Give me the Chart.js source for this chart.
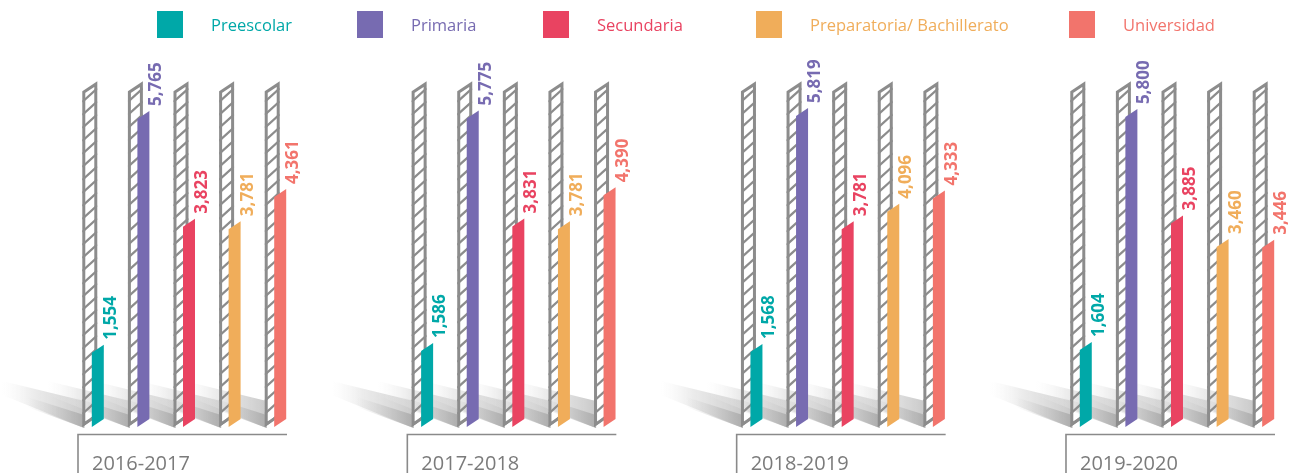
<!DOCTYPE html>
<html>
<head>
<meta charset="utf-8">
<script src="https://cdn.jsdelivr.net/npm/chart.js@4.4.1/dist/chart.umd.min.js"></script>
<style>
  html, body { margin: 0; padding: 0; background: #ffffff; overflow: hidden; }
  #wrap { width: 1290px; height: 473px; position: relative; }
</style>
</head>
<body>
<div id="wrap"><canvas id="chart" width="1290" height="473"></canvas></div>
<script>
// School years shown along the bottom
const years = ['2016-2017', '2017-2018', '2018-2019', '2019-2020'];
// Education levels (one series each)
const levels = ['Preescolar', 'Primaria', 'Secundaria', 'Preparatoria/ Bachillerato', 'Universidad'];
// Enrolment per level and school year
const preescolar   = [1554, 1586, 1568, 1604];
const primaria     = [5765, 5775, 5819, 5800];
const secundaria   = [3823, 3831, 3781, 3885];
const preparatoria = [3781, 3781, 4096, 3460];
const universidad  = [4361, 4390, 4333, 3446];

const series = [preescolar, primaria, secundaria, preparatoria, universidad];
const colors = ['#00a8a8', '#776bb1', '#e94361', '#f0ad5a', '#f2746c'];

const SLOPE = 8 / 12;       // slant of bar tops and bottoms
const HATCH_SLOPE = 0.9;    // slant of the hatch strokes
const HATCH_GAP = 13;       // vertical distance between hatch strokes
const TRACK_VALUE = 6300;   // height reached by the hatched backdrop columns
const GREY = '#8c8c8c';
const LEGEND_X = [157, 357, 543, 756, 1069];

const fmt = v => v.toLocaleString('en-US');

// Shadows, hatched backdrop columns, slanted bars and rotated value labels
const slantedBars = {
  id: 'slantedBars',
  beforeDatasetsDraw(chart) {
    const ctx = chart.ctx;
    const yS = chart.scales.y;
    const base = yS.getPixelForValue(0);
    const trackTop = yS.getPixelForValue(TRACK_VALUE);

    // floor shadows
    chart.data.datasets.forEach((ds, di) => {
      chart.getDatasetMeta(di).data.forEach(bar => {
        const colL = bar.x - bar.width / 2 - 9.5;
        const far = colL - 80;
        ctx.save();
        let g = ctx.createLinearGradient(colL, 0, far, 0);
        g.addColorStop(0, 'rgba(200,200,200,0.95)');
        g.addColorStop(0.6, 'rgba(222,222,222,0.6)');
        g.addColorStop(1, 'rgba(240,240,240,0)');
        ctx.fillStyle = g;
        ctx.beginPath();
        ctx.moveTo(colL + 2, base - 30);
        ctx.lineTo(far, base - 50);
        ctx.lineTo(far, base - 36);
        ctx.lineTo(colL + 2, base - 3);
        ctx.closePath();
        ctx.fill();
        g = ctx.createLinearGradient(colL, 0, colL - 55, 0);
        g.addColorStop(0, 'rgba(170,170,170,0.85)');
        g.addColorStop(1, 'rgba(205,205,205,0)');
        ctx.fillStyle = g;
        ctx.beginPath();
        ctx.moveTo(colL + 2, base - 16);
        ctx.lineTo(colL - 55, base - 34);
        ctx.lineTo(colL - 55, base - 24);
        ctx.lineTo(colL + 2, base - 3);
        ctx.closePath();
        ctx.fill();
        ctx.restore();
      });
    });

    // hatched backdrop columns
    chart.data.datasets.forEach((ds, di) => {
      chart.getDatasetMeta(di).data.forEach(bar => {
        const colL = bar.x - bar.width / 2 - 9.5;
        const colR = colL + 15;
        const w = colR - colL;
        const topR = trackTop, topL = trackTop + w * SLOPE;
        const botR = base - 14, botL = base - 4;
        ctx.save();
        ctx.beginPath();
        ctx.moveTo(colL, topL);
        ctx.lineTo(colR, topR);
        ctx.lineTo(colR, botR);
        ctx.lineTo(colL, botL);
        ctx.closePath();
        ctx.clip();
        ctx.strokeStyle = GREY;
        ctx.lineWidth = 2.2;
        for (let t = topR - 6; t < base + 20; t += HATCH_GAP) {
          ctx.beginPath();
          ctx.moveTo(colL, t + w * HATCH_SLOPE);
          ctx.lineTo(colR, t);
          ctx.stroke();
        }
        ctx.lineWidth = 6;
        ctx.beginPath();
        ctx.moveTo(colL, topL);
        ctx.lineTo(colR, topR);
        ctx.lineTo(colR, botR);
        ctx.lineTo(colL, botL);
        ctx.closePath();
        ctx.stroke();
        ctx.restore();
      });
    });
  },
  beforeDatasetDraw() { return false; },
  afterDatasetsDraw(chart) {
    const ctx = chart.ctx;
    const yS = chart.scales.y;
    const base = yS.getPixelForValue(0);
    chart.data.datasets.forEach((ds, di) => {
      chart.getDatasetMeta(di).data.forEach((bar, i) => {
        const l = bar.x - bar.width / 2, r = bar.x + bar.width / 2;
        const top = bar.y;
        ctx.save();
        ctx.fillStyle = ds.backgroundColor;
        ctx.beginPath();
        ctx.moveTo(l, top + bar.width * SLOPE);
        ctx.lineTo(r, top);
        ctx.lineTo(r, base - 12);
        ctx.lineTo(l, base - 4);
        ctx.closePath();
        ctx.fill();
        // value label, reading upwards
        ctx.translate(r + 12, top - 5);
        ctx.rotate(-Math.PI / 2);
        ctx.font = 'bold 17px "Open Sans"';
        ctx.textAlign = 'left';
        ctx.textBaseline = 'alphabetic';
        ctx.fillText(fmt(ds.data[i].y), 0, 0);
        ctx.restore();
      });
    });
  }
};

// Bracket under each school year with its label
const yearBrackets = {
  id: 'yearBrackets',
  afterDraw(chart) {
    const ctx = chart.ctx;
    const xS = chart.scales.x;
    ctx.save();
    years.forEach((yr, i) => {
      const c = xS.getPixelForValue(i);
      const left = c - 111, right = c + 98;
      ctx.strokeStyle = '#8a8a8a';
      ctx.lineWidth = 1.6;
      ctx.beginPath();
      ctx.moveTo(right, 434.5);
      ctx.lineTo(left, 434.5);
      ctx.lineTo(left, 480);
      ctx.stroke();
      ctx.fillStyle = '#7b7b7b';
      ctx.font = '20px "Open Sans"';
      ctx.textAlign = 'left';
      ctx.textBaseline = 'alphabetic';
      ctx.fillText(yr, left + 14, 470);
    });
    ctx.restore();
  }
};

// Legend row: coloured square followed by the level name in the same colour
const legendRow = {
  id: 'legendRow',
  afterDraw(chart) {
    const ctx = chart.ctx;
    ctx.save();
    ctx.font = '16.5px "Open Sans"';
    ctx.textBaseline = 'middle';
    chart.data.datasets.forEach((ds, i) => {
      const x = LEGEND_X[i];
      ctx.fillStyle = ds.backgroundColor;
      ctx.fillRect(x, 11, 26, 27);
      ctx.fillText(ds.label, x + 54, 26);
    });
    ctx.restore();
  }
};

new Chart(document.getElementById('chart'), {
  type: 'bar',
  data: {
    datasets: levels.map((name, i) => ({
      label: name,
      data: series[i].map((v, j) => ({ x: j, y: v })),
      backgroundColor: colors[i]
    }))
  },
  options: {
    responsive: false,
    animation: false,
    events: [],
    layout: { padding: { left: 0, right: 0, top: 42.5, bottom: 42 } },
    datasets: { bar: { categoryPercentage: 0.6924, barPercentage: 0.263 } },
    plugins: { legend: { display: false }, tooltip: { enabled: false } },
    scales: {
      x: {
        type: 'linear', display: false, offset: false,
        min: -0.57389, max: 3.34315,
        afterBuildTicks: s => { s.ticks = years.map((_, i) => ({ value: i })); }
      },
      y: { display: false, min: 0, max: 7000 }
    }
  },
  plugins: [slantedBars, yearBrackets, legendRow]
});
</script>
</body>
</html>
